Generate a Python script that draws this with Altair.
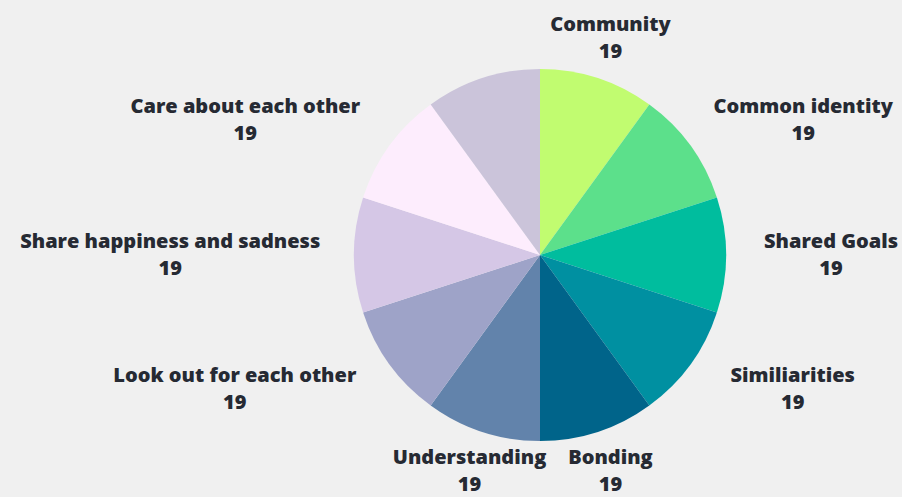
import math
import altair as alt
import pandas as pd

# ---- data ----
categories = [
    "Community",
    "Common identity",
    "Shared Goals",
    "Similiarities",
    "Bonding",
    "Understanding",
    "Look out for each other",
    "Share happiness and sadness",
    "Care about each other",
    "Other",
]
values = [19, 19, 19, 19, 19, 19, 19, 19, 19, 19]
show_label = [True, True, True, True, True, True, True, True, True, False]
colors = [
    "#c1fc70", "#5ce08b", "#00bd9e", "#0090a1", "#00648a",
    "#6283ab", "#9ea3c8", "#d5c7e6", "#fdedfd", "#cbc4da",
]

# ---- layout ----
W, H = 902, 497
CX, CY = 540, 255
R_OUT = 186
R_LAB = 228
FONT_SIZE = 20
LINE_H = 27
CHAR_W = 10.5  # approx. average label glyph width (px)

df = pd.DataFrame({"category": categories, "value": values, "idx": range(len(values))})

total = sum(values)
rows = []
cum = 0.0
for cat, v, show in zip(categories, values, show_label):
    mid = (cum + v / 2) / total * 2 * math.pi
    cum += v
    if not show:
        continue
    s, c = math.sin(mid), math.cos(mid)
    ly = CY - R_LAB * c - LINE_H / 2  # vertically centre the two-line block
    if abs(s) < 0.5:
        lx = CX + R_LAB * s
    else:
        half = len(cat) * CHAR_W / 2
        lx = CX + R_LAB * s + (half if s > 0 else -half)
    rows.append({"label": f"{cat}\n{v}", "lx": lx, "ly": ly})
lab = pd.DataFrame(rows)

pie = alt.Chart(df).mark_arc(outerRadius=R_OUT, strokeWidth=0).encode(
    theta=alt.Theta("value:Q", stack=True),
    color=alt.Color("category:N", scale=alt.Scale(domain=categories, range=colors), legend=None),
    order=alt.Order("idx:Q"),
    x=alt.value(CX),
    y=alt.value(CY),
)

text = alt.Chart(lab).mark_text(
    align="center", baseline="middle", lineBreak="\n", lineHeight=LINE_H,
    font="Open Sans", fontWeight=800, fontSize=FONT_SIZE, color="#262a33",
).encode(
    x=alt.X("lx:Q", scale=None),
    y=alt.Y("ly:Q", scale=None),
    text="label:N",
)

chart = alt.layer(pie, text).properties(
    width=W, height=H, padding=0, background="#f0f0f0",
    autosize=alt.AutoSizeParams(type="none"),
).configure_view(stroke=None)

chart.save("out.html", embed_options={"renderer": "svg", "actions": False})
